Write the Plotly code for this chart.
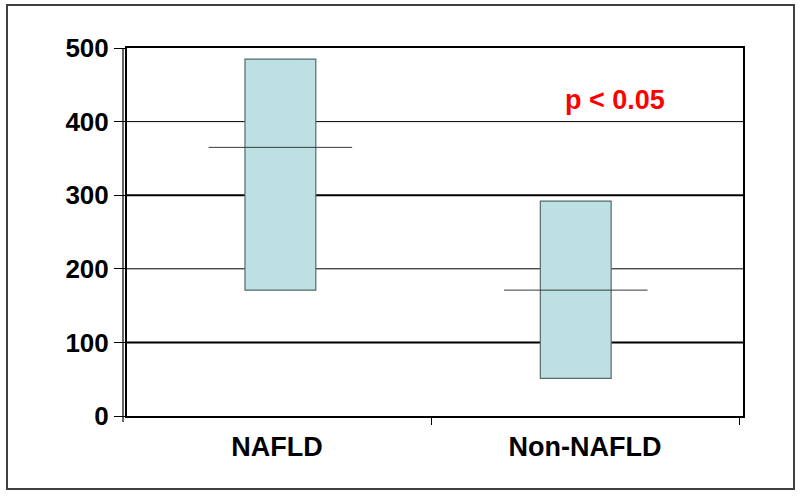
import plotly.graph_objects as go

groups = ["NAFLD", "Non-NAFLD"]
low = [171, 51]
high = [485, 292]
median = [365, 171]
y_ticks = [0, 100, 200, 300, 400, 500]
p_label = "p < 0.05"

# small visual offsets of each group from its category centre (layout only)
shift = [0.011, -0.03]
bar_w = 0.23
med_half = 0.233

font = "Liberation Sans, Arial, sans-serif"
xs = list(range(len(groups)))

fig = go.Figure()

fig.add_trace(go.Bar(
    x=[x + s for x, s in zip(xs, shift)],
    y=[h - l for h, l in zip(high, low)],
    base=low,
    width=bar_w,
    marker=dict(color="#BDE1E3", line=dict(color="#566B6C", width=1.2)),
    showlegend=False,
))

for x, s, m in zip(xs, shift, median):
    fig.add_trace(go.Scatter(
        x=[x + s - med_half, x + s + med_half], y=[m, m],
        mode="lines", line=dict(color="#3a3a3a", width=1),
        showlegend=False, hoverinfo="skip",
    ))

# gridlines (100 & 300 drawn heavier, as in the original)
for v in y_ticks[1:-1]:
    fig.add_shape(type="line", xref="paper", x0=0, x1=1, yref="y", y0=v, y1=v,
                  line=dict(color="black", width=2 if v % 200 else 1), layer="below")

# second vertical line of the y axis (Excel-style double line)
fig.add_shape(type="line", xref="paper", x0=-4/616, x1=-4/616, yref="paper",
              y0=-6/368, y1=1, line=dict(color="black", width=1.2))

# outer frame
fig.add_shape(type="rect", xref="paper", yref="paper",
              x0=-120/616, x1=667/616, y0=-73/368, y1=411/368,
              line=dict(color="#404040", width=2))

fig.add_annotation(x=1.097, y=430, text="<b>" + p_label + "</b>", showarrow=False,
                   font=dict(family=font, size=27, color="#FF0000"),
                   xanchor="center", yanchor="middle")

fig.update_layout(
    width=800, height=497,
    margin=dict(l=127, r=57, t=48, b=81),
    paper_bgcolor="white", plot_bgcolor="white",
    font=dict(family=font, color="black"),
    xaxis=dict(
        range=[-0.5 + 4/308, 1.5 + 4/308],
        tickvals=xs, ticktext=["<b>" + g + "</b>" for g in groups],
        ticks="", showgrid=False, zeroline=False,
        showline=True, linecolor="black", linewidth=2, mirror=True,
        tickfont=dict(family=font, size=27, color="black"),
        ticklabelstandoff=6,
        minor=dict(ticks="outside", tick0=0.5, dtick=1, ticklen=7,
                   tickcolor="black", tickwidth=1.2, showgrid=False),
    ),
    yaxis=dict(
        range=[0, 500], tickvals=y_ticks,
        ticktext=["<b>%d</b>" % v for v in y_ticks],
        ticks="outside", ticklen=11, tickcolor="black", tickwidth=1.2,
        showgrid=False, zeroline=False,
        showline=True, linecolor="black", linewidth=2, mirror=True,
        tickfont=dict(family=font, size=26, color="black"),
    ),
)

fig.write_html("out.html", config={"displayModeBar": False},
               post_script="document.body.style.margin='0';")
